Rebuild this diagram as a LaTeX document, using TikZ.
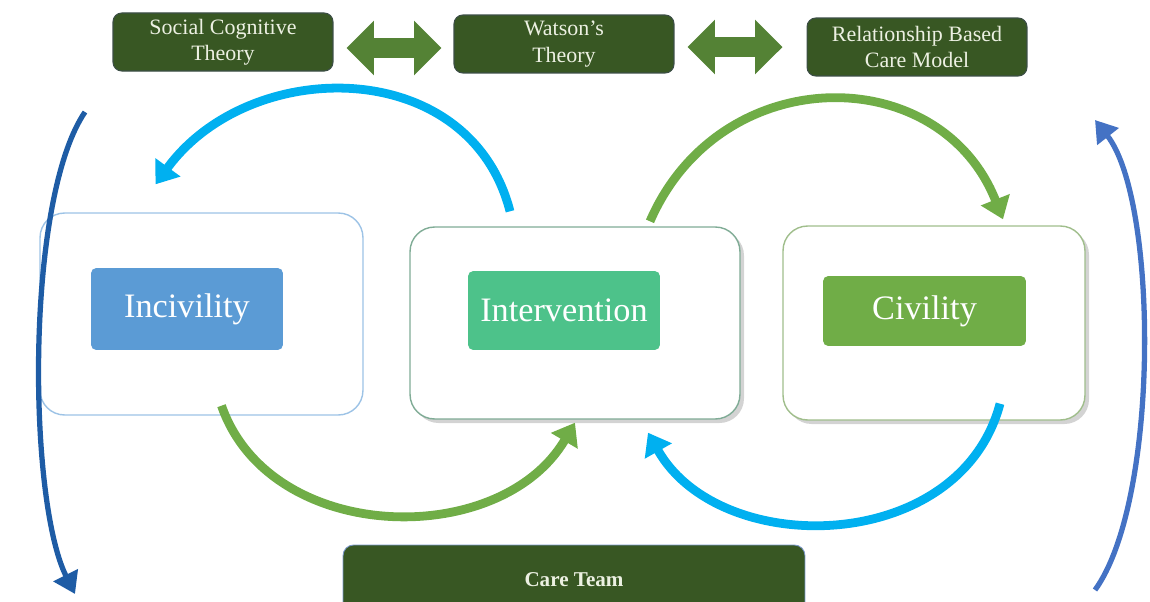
\documentclass[tikz,border=0pt]{standalone}
\usepackage{fontspec}
\setmainfont{Liberation Serif}
\usetikzlibrary{arrows.meta,shapes.arrows,shadows,calc}

\definecolor{dark-green}{RGB}{56, 87, 35}
\definecolor{mid-green}{RGB}{84, 130, 53}
\definecolor{light-green}{RGB}{112, 173, 71}
\definecolor{mint-green}{RGB}{77, 194, 138}
\definecolor{sky-blue}{RGB}{0, 176, 240}
\definecolor{soft-blue}{RGB}{91, 155, 213}
\definecolor{deep-blue}{RGB}{30, 92, 165}
\definecolor{royal-blue}{RGB}{68, 114, 196}
\definecolor{cream}{RGB}{236, 240, 226}
\definecolor{edge-gray}{RGB}{60, 78, 70}

\begin{document}
\begin{tikzpicture}[
        x=0.02cm, y=-0.02cm,
        every node/.style={shape=rectangle, align=center},
        theory/.style={fill=dark-green, draw=edge-gray, line width=0.6pt, rounded corners=5pt,
            text=cream, font=\fontsize{12.5}{15}\selectfont, minimum width=4.4cm, minimum height=1.16cm},
        link/.style={double arrow, fill=mid-green, inner xsep=0pt, inner ysep=0.19cm,
            double arrow head extend=0.35cm, minimum height=1.9cm},
        outer box/.style={draw, fill=white, line width=0.8pt, rounded corners=14pt},
        stage/.style={text=white, rounded corners=3pt, font=\fontsize{19.5}{22}\selectfont},
        cycle arrow/.style={line width=5pt, -{Triangle[width=17pt, length=12pt]}},
        side arrow/.style={line width=3pt, -{Triangle[width=15pt, length=12pt]}},
    ]
    \useasboundingbox (0,0) rectangle (1150,602);

    % theories along the top
    \node[theory] (social) at (223,42) {Social Cognitive\\Theory};
    \node[theory] (watson) at (564,44) {Watson's\\Theory};
    \node[theory] (relation) at (917,47) {Relationship Based\\Care Model};
    \node[link] (link-a) at (394,48) {};
    \node[link] (link-b) at (735,47) {};

    % the three stages
    \node[outer box, draw={rgb,255:red,157;green,195;blue,230}, minimum width=6.46cm, minimum height=4.04cm]
        (incivility-box) at (201.5,314) {};
    \node[outer box, draw={rgb,255:red,128;green,172;blue,150}, drop shadow={opacity=0.35},
        minimum width=6.6cm, minimum height=3.84cm] (intervention-box) at (575,323) {};
    \node[outer box, draw={rgb,255:red,160;green,190;blue,140}, drop shadow={opacity=0.35},
        minimum width=6.04cm, minimum height=3.88cm] (civility-box) at (934,323) {};

    \node[stage, fill=soft-blue, minimum width=3.84cm, minimum height=1.64cm] (incivility) at (187,309) {Incivility};
    \node[stage, fill=mint-green, minimum width=3.84cm, minimum height=1.58cm] (intervention) at (564,310.5) {Intervention};
    \node[stage, fill=light-green, minimum width=4.06cm, minimum height=1.4cm] (civility) at (924.5,311) {Civility};

    \node[fill=dark-green, draw={rgb,255:red,120;green,150;blue,200}, line width=0.5pt, rounded corners=6pt,
        text=cream, font=\bfseries\fontsize{12}{14}\selectfont, minimum width=9.24cm, minimum height=1.4cm]
        (careteam) at (574,580) {Care Team};

    % cycle arrows
    \draw[cycle arrow, sky-blue] ($(intervention-box.north)+(-65,-15)$)
        .. controls (470,55) and (250,55) .. ($(incivility-box.north)+(-46,-28)$);
    \draw[cycle arrow, light-green] ($(intervention-box.north)+(75,-5)$)
        .. controls (720,60) and (940,60) .. ($(civility-box.north)+(69,-6)$);
    \draw[cycle arrow, light-green] ($(incivility-box.south)+(20,-10)$)
        .. controls (270,545) and (500,550) .. ($(intervention-box.south)+(0,3)$);
    \draw[cycle arrow, sky-blue] ($(civility-box.south)+(66,-17)$)
        .. controls (960,555) and (720,560) .. ($(intervention-box.south)+(73,13)$);

    % outer arcs
    \coordinate (left-top) at (85,112);
    \coordinate (left-end) at (75,594);
    \coordinate (right-bottom) at (1095,590);
    \coordinate (right-end) at (1095,120);
    \draw[side arrow, deep-blue] (left-top) .. controls (25,200) and (28,500) .. (left-end);
    \draw[side arrow, royal-blue] (right-bottom) .. controls (1160,500) and (1158,200) .. (right-end);
\end{tikzpicture}
\end{document}
